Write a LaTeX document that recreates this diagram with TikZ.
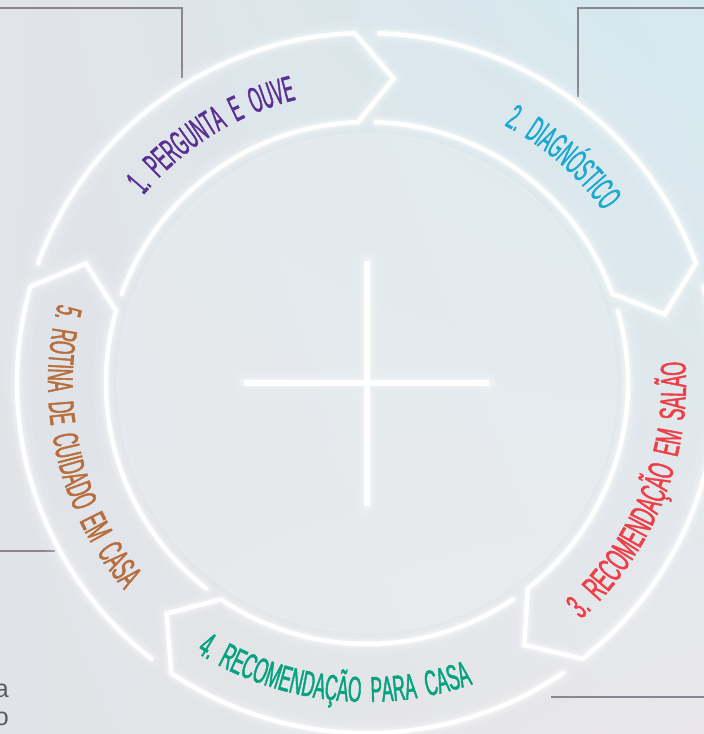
\documentclass[tikz,border=0pt]{standalone}
\usepackage{fontspec}
\setmainfont{Liberation Sans}
\newfontfamily\condA[FakeStretch=0.435,FakeBold=1.2]{Liberation Sans}
\newfontfamily\condB[FakeStretch=0.48,FakeBold=1.2]{Liberation Sans}
\newfontfamily\condC[FakeStretch=0.5,FakeBold=1.2]{Liberation Sans}
\usetikzlibrary{decorations.text,shadings}
\definecolor{bgUL}{HTML}{E1E4E8}
\definecolor{bgUR}{HTML}{D4E9EF}
\definecolor{bgLL}{HTML}{E0E3E7}
\definecolor{bgLR}{HTML}{E9E7EA}
\definecolor{framec}{HTML}{8C8590}
\definecolor{cPurple}{HTML}{5A2F92}
\definecolor{cCyan}{HTML}{1BA9D1}
\definecolor{cRed}{HTML}{EE3F48}
\definecolor{cGreen}{HTML}{05A27E}
\definecolor{cBrown}{HTML}{B76E3C}
\definecolor{grayt}{HTML}{5A5B5E}
\newcommand\labfontA{\condA\fontsize{36pt}{36pt}\selectfont}
\newcommand\labfontB{\condB\fontsize{36pt}{36pt}\selectfont}
\newcommand\labfontC{\condC\fontsize{36pt}{36pt}\selectfont}
\newcommand\xsp{\hspace{5pt}}
\tikzset{
  framel/.style={draw=framec, line width=1.2pt},
  ringline/.style={draw=white, line width=4.5pt, line cap=round, line join=miter},
  crossline/.style={draw=white, line width=6.5pt},
  glow/.style={draw=white, line width=#1, line cap=round, line join=round},
  graytext/.style={text=grayt, font=\fontsize{25pt}{25pt}\selectfont, inner sep=0pt},
  arclabel/.style n args={3}{decorate, decoration={text along path, text align=center, text color=#1, text={|#2|#3}}}
}
\begin{document}
\begin{tikzpicture}[x=1pt,y=1pt]
\useasboundingbox (0,0) rectangle (704,734);
\shade[upper left=bgUL, upper right=bgUR, lower left=bgLL, lower right=bgLR] (0,0) rectangle (704,734);
% soft light haze in the middle
\fill[white, opacity=0.18] (367,351) circle[radius=250pt];
% background frame lines
\draw[framel] (0,726) -- (182,726) -- (182,656);
\draw[framel] (704,726) -- (578,726) -- (578,637);
\draw[framel] (0,183) -- (55,183);
\draw[framel] (551,37) -- (704,37);
\node[graytext, anchor=base east] (ta) at (9,36) {a};
\node[graytext, anchor=base east] (to) at (9,9) {o};
\begin{scope}[shift={(367,351)}]
  % cross
  \foreach \w/\o in {26pt/0.07, 15pt/0.14, 9pt/0.25}{
    \draw[glow=\w, opacity=\o] (-123,0) -- (122,0) (0,122) -- (0,-123);
  }
  \draw[crossline] (-123,0) -- (122,0) (0,122) -- (0,-123);
  % ring segments
  \foreach \s in {160,88,16,-56,-128}{
    \pgfmathsetmacro\e{\s-68}
    \pgfmathsetmacro\t{\s-75}
    \foreach \w/\o in {26pt/0.07, 15pt/0.14, 9pt/0.25}{
      \draw[glow=\w, opacity=\o] (\s:350pt) arc[start angle=\s, end angle=\e, radius=350pt]
        -- (\t:305.5pt) -- (\e:261pt) arc[start angle=\e, end angle=\s, radius=261pt];
    }
    \draw[ringline] (\s:350pt) arc[start angle=\s, end angle=\e, radius=350pt]
        -- (\t:305.5pt) -- (\e:261pt) arc[start angle=\e, end angle=\s, radius=261pt];
  }
  % labels
  \path[arclabel={cPurple}{\labfontA}{1. {\xsp}PERGUNTA {\xsp}E {\xsp}OUVE}]
    (162:292pt) arc[start angle=162, end angle=82, radius=292pt];
  \path[arclabel={cCyan}{\labfontA}{2. {\xsp}DIAGNÓSTICO}]
    (89:292pt) arc[start angle=89, end angle=9, radius=292pt];
  \path[arclabel={cRed}{\labfontC}{3. {\xsp}RECOMENDAÇÃO {\xsp}EM {\xsp}SALÃO}]
    (-62:319pt) arc[start angle=-62, end angle=18, radius=319pt];
  \path[arclabel={cGreen}{\labfontB}{4. {\xsp}RECOMENDAÇÃO {\xsp}PARA {\xsp}CASA}]
    (-136.5:319pt) arc[start angle=-136.5, end angle=-56.5, radius=319pt];
  \path[arclabel={cBrown}{\labfontB}{5. {\xsp}ROTINA {\xsp}DE {\xsp}CUIDADO {\xsp}EM {\xsp}CASA}]
    (153:319pt) arc[start angle=153, end angle=233, radius=319pt];
\end{scope}
\end{tikzpicture}
\end{document}
